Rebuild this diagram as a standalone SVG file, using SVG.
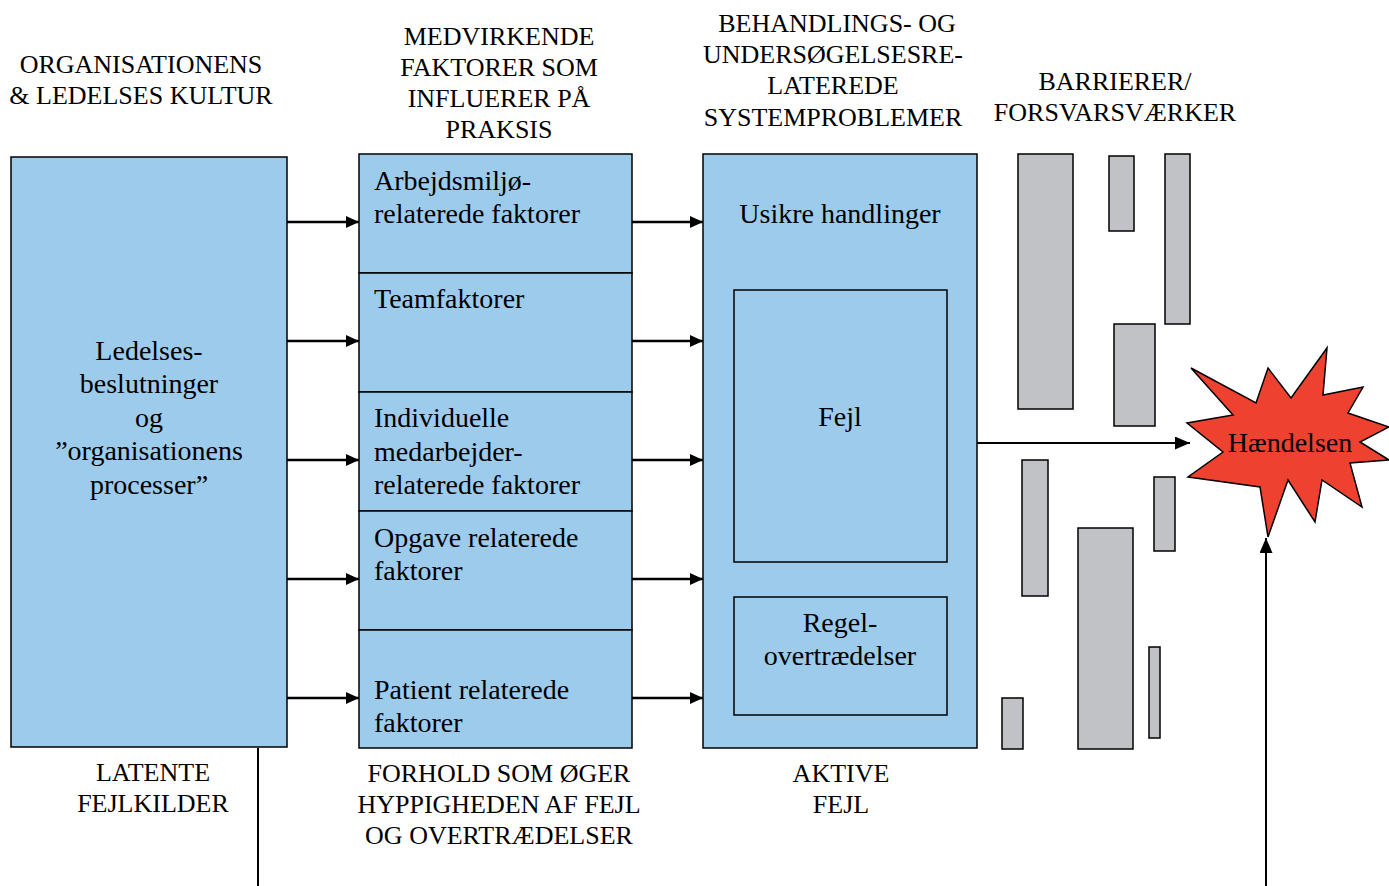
<svg xmlns="http://www.w3.org/2000/svg" width="1389" height="886" viewBox="0 0 1389 886">
<defs>
<marker id="ah" markerWidth="13" markerHeight="12" refX="13" refY="6" orient="auto" markerUnits="userSpaceOnUse" viewBox="0 0 13 12">
<path d="M0,0 L13,6 L0,12 Z" fill="#000"/>
</marker>
<marker id="ahb" markerWidth="15" markerHeight="13" refX="15" refY="6.5" orient="auto" markerUnits="userSpaceOnUse" viewBox="0 0 15 13">
<path d="M0,0 L15,6.5 L0,13 Z" fill="#000"/>
</marker>
</defs>
<style>
.box{fill:#9CCBEC;stroke:#000;stroke-width:1.5}
.bar{fill:#C1C2C5;stroke:#000;stroke-width:1.5}
.t{font-family:"Liberation Serif","Times New Roman",serif;fill:#000}
.h{font-size:26px;text-anchor:middle}
.b{font-size:28px}
.c{text-anchor:middle}
.arr{stroke:#000;stroke-width:2.5;fill:none;marker-end:url(#ah)}
.ln{stroke:#000;stroke-width:2;fill:none}
</style>
<rect width="1389" height="886" fill="#fff"/>

<g id="headers">
<text class="t h" x="141" y="73">ORGANISATIONENS</text>
<text class="t h" x="141" y="104">&amp; LEDELSES KULTUR</text>
<text class="t h" x="499" y="45">MEDVIRKENDE</text>
<text class="t h" x="499" y="76">FAKTORER SOM</text>
<text class="t h" x="499" y="107">INFLUERER PÅ</text>
<text class="t h" x="499" y="138">PRAKSIS</text>
<text class="t h" x="837" y="32">BEHANDLINGS- OG</text>
<text class="t h" x="833" y="63">UNDERSØGELSESRE-</text>
<text class="t h" x="833" y="94">LATEREDE</text>
<text class="t h" x="833" y="126">SYSTEMPROBLEMER</text>
<text class="t h" x="1115" y="90">BARRIERER/</text>
<text class="t h" x="1115" y="121">FORSVARSVÆRKER</text>
<text class="t h" x="153" y="781">LATENTE</text>
<text class="t h" x="153" y="812">FEJLKILDER</text>
<text class="t h" x="499" y="782">FORHOLD SOM ØGER</text>
<text class="t h" x="499" y="813">HYPPIGHEDEN AF FEJL</text>
<text class="t h" x="499" y="844">OG OVERTRÆDELSER</text>
<text class="t h" x="841" y="782">AKTIVE</text>
<text class="t h" x="841" y="813">FEJL</text>
</g>

<g id="ledelse">
<rect class="box" x="11" y="157" width="276" height="590"/>
<text class="t b c" x="149" y="360">Ledelses-</text>
<text class="t b c" x="149" y="393">beslutninger</text>
<text class="t b c" x="149" y="427">og</text>
<text class="t b c" x="149" y="460">”organisationens</text>
<text class="t b c" x="149" y="494">processer”</text>
</g>

<g id="arbejdsmiljo">
<rect class="box" x="359" y="154" width="273" height="119"/>
<text class="t b" x="374" y="190">Arbejdsmiljø-</text>
<text class="t b" x="374" y="223">relaterede faktorer</text>
</g>
<g id="team">
<rect class="box" x="359" y="273" width="273" height="119"/>
<text class="t b" x="374" y="308">Teamfaktorer</text>
</g>
<g id="individuelle">
<rect class="box" x="359" y="392" width="273" height="119"/>
<text class="t b" x="374" y="427">Individuelle</text>
<text class="t b" x="374" y="461">medarbejder-</text>
<text class="t b" x="374" y="494">relaterede faktorer</text>
</g>
<g id="opgave">
<rect class="box" x="359" y="511" width="273" height="119"/>
<text class="t b" x="374" y="547">Opgave relaterede</text>
<text class="t b" x="374" y="580">faktorer</text>
</g>
<g id="patient">
<rect class="box" x="359" y="630" width="273" height="118"/>
<text class="t b" x="374" y="699">Patient relaterede</text>
<text class="t b" x="374" y="732">faktorer</text>
</g>

<g id="aktive">
<rect class="box" x="703" y="154" width="274" height="594"/>
<text class="t b c" x="840" y="223">Usikre handlinger</text>
</g>
<g id="fejl">
<rect class="box" x="734" y="290" width="213" height="272"/>
<text class="t b c" x="840" y="426">Fejl</text>
</g>
<g id="regel">
<rect class="box" x="734" y="597" width="213" height="118"/>
<text class="t b c" x="840" y="632">Regel-</text>
<text class="t b c" x="840" y="665">overtrædelser</text>
</g>

<g id="barrierer">
<rect class="bar" x="1018" y="154" width="55" height="255"/>
<rect class="bar" x="1109" y="156" width="25" height="75"/>
<rect class="bar" x="1165" y="154" width="25" height="170"/>
<rect class="bar" x="1114" y="324" width="41" height="102"/>
<rect class="bar" x="1022" y="460" width="26" height="136"/>
<rect class="bar" x="1154" y="477" width="21" height="74"/>
<rect class="bar" x="1078" y="528" width="55" height="221"/>
<rect class="bar" x="1149" y="647" width="11" height="91"/>
<rect class="bar" x="1002" y="698" width="21" height="51"/>
</g>

<g id="haendelsen">
<polygon points="1191,368 1256,403 1268,368 1291,398 1327,348 1323,395 1363,387 1348,413 1389,427 1360,442 1389,460 1350,463 1362,507 1322,480 1315,522 1288,480 1268,537 1260,487 1188,477 1223,452 1187,423 1233,415" fill="#EE4130" stroke="#000" stroke-width="1.5" stroke-linejoin="miter"/>
<text class="t b c" x="1290" y="452">Hændelsen</text>
</g>

<g id="connectors">
<line class="arr" x1="287" y1="222" x2="359" y2="222"/>
<line class="arr" x1="287" y1="341" x2="359" y2="341"/>
<line class="arr" x1="287" y1="460" x2="359" y2="460"/>
<line class="arr" x1="287" y1="579" x2="359" y2="579"/>
<line class="arr" x1="287" y1="698" x2="359" y2="698"/>
<line class="arr" x1="632" y1="222" x2="703" y2="222"/>
<line class="arr" x1="632" y1="341" x2="703" y2="341"/>
<line class="arr" x1="632" y1="460" x2="703" y2="460"/>
<line class="arr" x1="632" y1="579" x2="703" y2="579"/>
<line class="arr" x1="632" y1="698" x2="703" y2="698"/>
<line class="ln" x1="977" y1="443" x2="1190" y2="443" style="marker-end:url(#ahb)"/>
<line class="ln" x1="1266" y1="886" x2="1266" y2="538" style="marker-end:url(#ahb)"/>
<line class="ln" x1="258" y1="748" x2="258" y2="886"/>
</g>
</svg>
